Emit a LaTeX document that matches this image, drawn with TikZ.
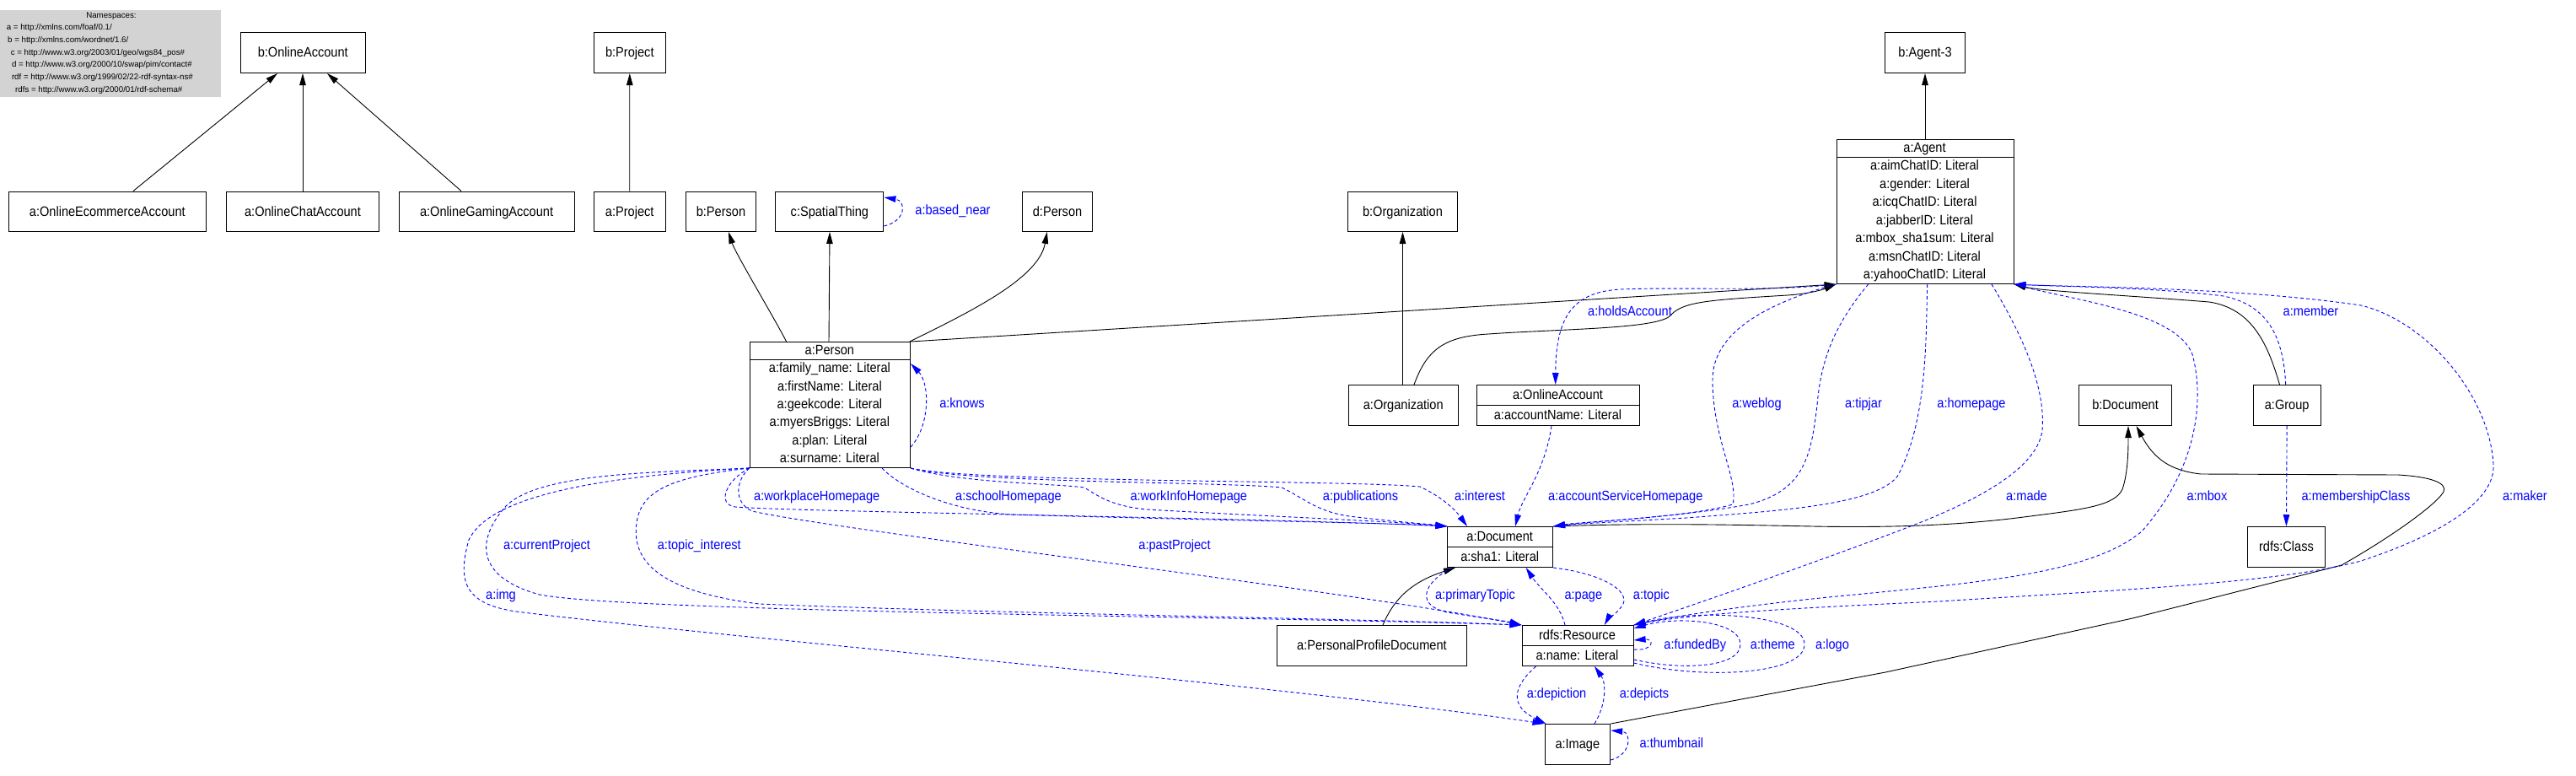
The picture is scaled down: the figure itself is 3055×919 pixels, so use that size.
\documentclass[tikz,border=0pt]{standalone}
\usepackage{fontspec}
\setmainfont{Liberation Sans}
\newfontfamily\labfam[FakeStretch=0.9]{Liberation Sans}
\usetikzlibrary{arrows.meta,calc}
\newcommand\labfont{\labfam\fontsize{16.2pt}{19pt}\selectfont}
\newcommand\nsfont{\fontsize{9.7pt}{11pt}\selectfont}
\definecolor{nsgray}{RGB}{211,211,211}
\begin{document}
\begin{tikzpicture}[x=1pt,y=-1pt,
 box/.style={draw,line width=1pt,inner sep=0pt,anchor=north west,text height=12.5pt,text depth=2pt,font=\labfont},
 cls/.style={draw,line width=1pt,inner sep=0pt,anchor=north west},
 cell/.style={inner sep=0pt,text height=12.5pt,text depth=2pt,font=\labfont},
 rl/.style={cell,text=blue},
 nsl/.style={inner sep=0pt,anchor=west,font=\nsfont},
 isa/.style={line width=0.9pt,-{Triangle[length=14pt,width=7.5pt]}},
 rel/.style={blue,line width=0.9pt,dash pattern=on 4pt off 3pt,-{Triangle[length=14pt,width=7.5pt]}},
 sep/.style={line width=1pt}]
\fill[white] (0,0) rectangle (3055,919);
\useasboundingbox (0,0) rectangle (3055,919);

% namespaces
\node[fill=nsgray,inner sep=0pt,anchor=north west,minimum width=262pt,minimum height=103pt] (ns) at (0,12) {};
\node[inner sep=0pt,font=\nsfont] (nsT) at (132,19) {Namespaces:};
\node[nsl] (ns1) at (7.7,33) {a = http://xmlns.com/foaf/0.1/};
\node[nsl] (ns2) at (9,48) {b = http://xmlns.com/wordnet/1.6/};
\node[nsl] (ns3) at (12.6,63) {c = http://www.w3.org/2003/01/geo/wgs84\_pos\#};
\node[nsl] (ns4) at (13.8,77) {d = http://www.w3.org/2000/10/swap/pim/contact\#};
\node[nsl] (ns5) at (13.8,92) {rdf = http://www.w3.org/1999/02/22-rdf-syntax-ns\#};
\node[nsl] (ns6) at (18,107) {rdfs = http://www.w3.org/2000/01/rdf-schema\#};

% simple boxes
\node[box,minimum width=147.5pt,minimum height=48pt] (bOA) at (285,38) {b:OnlineAccount};
\node[box,minimum width=234.4pt,minimum height=47.5pt] (ecom) at (9.6,226.5) {a:OnlineEcommerceAccount};
\node[box,minimum width=181pt,minimum height=47.5pt] (chat) at (268,226.5) {a:OnlineChatAccount};
\node[box,minimum width=207.8pt,minimum height=47.5pt] (gaming) at (472.7,226.5) {a:OnlineGamingAccount};
\node[box,minimum width=85.4pt,minimum height=48pt] (bProject) at (703.6,38) {b:Project};
\node[box,minimum width=85.2pt,minimum height=47.5pt] (aProject) at (703.6,226.5) {a:Project};
\node[box,minimum width=83.9pt,minimum height=47.5pt] (bPerson) at (812.5,226.5) {b:Person};
\node[box,minimum width=128pt,minimum height=47.5pt] (spatial) at (919.4,226.5) {c:SpatialThing};
\node[box,minimum width=83.7pt,minimum height=47.5pt] (dPerson) at (1211.7,226.5) {d:Person};
\node[box,minimum width=130.9pt,minimum height=47.5pt] (bOrg) at (1597.5,226.5) {b:Organization};
\node[box,minimum width=95pt,minimum height=48pt] (bAgent3) at (2235,38) {b:Agent-3};
\node[box,minimum width=129.5pt,minimum height=48pt] (aOrg) at (1599,456) {a:Organization};
\node[box,minimum width=110.7pt,minimum height=48pt] (bDoc) at (2464.7,456) {b:Document};
\node[box,minimum width=79.9pt,minimum height=48pt] (group) at (2671.7,456) {a:Group};
\node[box,minimum width=92.9pt,minimum height=48pt] (rClass) at (2664.5,624) {rdfs:Class};
\node[box,minimum width=225.7pt,minimum height=48pt] (ppd) at (1513.6,741) {a:PersonalProfileDocument};
\node[box,minimum width=77.7pt,minimum height=48pt] (img) at (1831.5,858) {a:Image};

% class boxes with attributes
\node[cls,minimum width=210pt,minimum height=171pt] (agent) at (2177.5,165) {};
\draw[sep] ($(agent.north west)+(0,21)$) -- ($(agent.north east)+(0,21)$);
\node[cell] (agT) at (2282.5,175.5) {a:Agent};
\node[cell] (ag1) at (2282.5,196.7) {a:aimChatID: Literal};
\node[cell] (ag2) at (2282.5,218.1) {a:gender: Literal};
\node[cell] (ag3) at (2282.5,239.6) {a:icqChatID: Literal};
\node[cell] (ag4) at (2282.5,261) {a:jabberID: Literal};
\node[cell] (ag5) at (2282.5,282.4) {a:mbox\_sha1sum: Literal};
\node[cell] (ag6) at (2282.5,303.9) {a:msnChatID: Literal};
\node[cell] (ag7) at (2282.5,325.3) {a:yahooChatID: Literal};

\node[cls,minimum width=190.2pt,minimum height=149pt] (person) at (888.8,405) {};
\draw[sep] ($(person.north west)+(0,21)$) -- ($(person.north east)+(0,21)$);
\node[cell] (peT) at (983.9,415.5) {a:Person};
\node[cell] (pe1) at (983.9,436.7) {a:family\_name: Literal};
\node[cell] (pe2) at (983.9,458) {a:firstName: Literal};
\node[cell] (pe3) at (983.9,479.3) {a:geekcode: Literal};
\node[cell] (pe4) at (983.9,500.7) {a:myersBriggs: Literal};
\node[cell] (pe5) at (983.9,522) {a:plan: Literal};
\node[cell] (pe6) at (983.9,543.3) {a:surname: Literal};

\node[cls,minimum width=193pt,minimum height=48pt] (aOA) at (1751,456) {};
\draw[sep] ($(aOA.north west)+(0,24)$) -- ($(aOA.north east)+(0,24)$);
\node[cell] (oaT) at (1847.5,468) {a:OnlineAccount};
\node[cell] (oa1) at (1847.5,492) {a:accountName: Literal};

\node[cls,minimum width=124.6pt,minimum height=48pt] (doc) at (1716.4,624) {};
\draw[sep] ($(doc.north west)+(0,24)$) -- ($(doc.north east)+(0,24)$);
\node[cell] (docT) at (1778.7,636) {a:Document};
\node[cell] (doc1) at (1778.7,660) {a:sha1: Literal};

\node[cls,minimum width=132.1pt,minimum height=48pt] (res) at (1804.5,741) {};
\draw[sep] ($(res.north west)+(0,24)$) -- ($(res.north east)+(0,24)$);
\node[cell] (resT) at (1870.5,753) {rdfs:Resource};
\node[cell] (res1) at (1870.5,777) {a:name: Literal};

% subclass connectors
\draw[isa] ($(ecom.north west)+(148.4,0)$) -- ($(bOA.south west)+(44,0)$);
\draw[isa] ($(chat.north west)+(91,0)$) -- ($(bOA.south west)+(74,0)$);
\draw[isa] ($(gaming.north west)+(74.3,0)$) -- ($(bOA.south west)+(103,0)$);
\draw[isa] (aProject.north) -- (bProject.south);
\draw[isa] (agent.north) -- (bAgent3.south);
\draw[isa] ($(person.north west)+(43.8,0)$) .. controls (920,380) and (872,300) .. ($(bPerson.south west)+(51.5,0)$);
\draw[isa] ($(person.north west)+(94.2,0)$) -- ($(spatial.south west)+(64.6,0)$);
\draw[isa] ($(person.north east)+(-1.3,0)$) .. controls (1150,370) and (1232,330) .. ($(dPerson.south west)+(30.1,0)$);
\draw[isa] (person.north east) -- (agent.south west);
\draw[isa] ($(aOrg.north west)+(64.5,0)$) -- ($(bOrg.south west)+(66,0)$);
\draw[isa] ($(aOrg.north west)+(78,0)$) .. controls (1692,415) and (1712,399) .. (1765,396) .. controls (1850,390) and (1962,390) .. (1980,375) .. controls (1995,358) and (2020,356) .. (2120,350) .. controls (2150,348) and (2165,342) .. (agent.south west);
\draw[isa] ($(group.north west)+(31.8,0)$) .. controls (2690,410) and (2672,366) .. (2620,358) .. controls (2520,350) and (2420,345) .. (agent.south east);
\draw[isa] ($(ppd.north west)+(126.4,0)$) .. controls (1655,705) and (1680,688) .. ($(doc.south west)+(9.6,0)$);
\draw[isa] (doc.north east) .. controls (1950,620) and (2050,622) .. (2150,624) .. controls (2250,626) and (2330,622) .. (2400,613) .. controls (2470,604) and (2508,600) .. (2517,580) .. controls (2524,560) and (2524,530) .. ($(bDoc.south west)+(59.3,0)$);
\draw[isa] (img.north east) -- (2236,797) -- (2529,733) -- (2777,670) .. controls (2830,640) and (2888,600) .. (2898,583) .. controls (2903,572) and (2880,565) .. (2844,563) -- (2610,562) .. controls (2575,558) and (2555,545) .. ($(bDoc.south west)+(68.8,0)$);

% property connectors
\draw[rel] ($(spatial.south east)+(0,-7)$) .. controls (1075,262) and (1075,238) .. ($(spatial.south east)+(0,-41)$);
\draw[rel] ($(person.south east)+(0,-25)$) .. controls (1103,505) and (1103,455) .. ($(person.south east)+(0,-124)$);
\draw[rel] (agent.south west) .. controls (2100,346) and (2000,340) .. (1922,343) .. controls (1868,346) and (1845,372) .. ($(aOA.north west)+(93.7,0)$);
\draw[rel] ($(aOA.south west)+(89,0)$) .. controls (1832,560) and (1805,590) .. ($(doc.north west)+(80.6,0)$);
\draw[rel] (agent.south west) .. controls (2100,358) and (2031,392) .. (2031,450) .. controls (2031,520) and (2062,568) .. (2055,598) .. controls (2000,614) and (1880,618) .. (doc.north east);
\draw[rel] ($(agent.south west)+(38.2,0)$) .. controls (2180,380) and (2160,420) .. (2155,480) .. controls (2148,540) and (2140,582) .. (2074,598) .. controls (2000,612) and (1880,619) .. (doc.north east);
\draw[rel] ($(agent.south west)+(108.2,0)$) .. controls (2284,400) and (2286,500) .. (2250,565) .. controls (2222,600) and (2100,606) .. (2000,614) .. controls (1930,618) and (1870,621) .. (doc.north east);
\draw[rel] ($(agent.south west)+(184.5,0)$) .. controls (2400,400) and (2426,460) .. (2422,510) .. controls (2416,560) and (2330,600) .. (2250,630) .. controls (2150,668) and (2000,720) .. (res.north east);
\draw[rel] (agent.south east) .. controls (2450,355) and (2580,368) .. (2600,420) .. controls (2616,480) and (2602,560) .. (2540,630) .. controls (2480,680) and (2350,690) .. (2200,705) .. controls (2080,716) and (1990,730) .. (res.north east);
\draw[rel] (res.north east) .. controls (2000,727) and (2150,720) .. (2300,713) .. controls (2500,700) and (2700,692) .. (2800,665) .. controls (2900,632) and (2960,592) .. (2957,550) .. controls (2952,470) and (2880,382) .. (2800,362) .. controls (2650,340) and (2450,340) .. (agent.south east);
\draw[rel] ($(group.north west)+(39,0)$) .. controls (2708,400) and (2690,362) .. (2637,351) .. controls (2560,341) and (2450,340) .. (agent.south east);
\draw[rel] (group.south) -- (rClass.north);

\draw[rel] (person.south east) .. controls (1150,572) and (1600,569) .. (1684,577) .. controls (1712,590) and (1727,606) .. ($(doc.north west)+(23.6,0)$);
\draw[rel] (person.south east) .. controls (1150,573) and (1450,571) .. (1520,578) .. controls (1546,590) and (1560,606) .. (1600,612) .. controls (1650,618) and (1690,621) .. (doc.north west);
\draw[rel] (person.south east) .. controls (1140,573) and (1250,573) .. (1286,578) .. controls (1305,590) and (1320,600) .. (1360,604) .. controls (1500,612) and (1650,618) .. (doc.north west);
\draw[rel] ($(person.south west)+(157.2,0)$) .. controls (1070,580) and (1130,606) .. (1200,610) .. controls (1400,616) and (1650,620) .. (doc.north west);
\draw[rel] (person.south west) .. controls (860,570) and (850,598) .. (872,601) .. controls (950,607) and (1500,614) .. (doc.north west);
\draw[rel] (person.south west) .. controls (872,570) and (870,596) .. (892,606) .. controls (1000,630) and (1600,700) .. (res.north west);
\draw[rel] (person.south west) .. controls (780,560) and (640,560) .. (600,600) .. controls (560,645) and (570,686) .. (640,705) .. controls (750,726) and (1500,731) .. (res.north west);
\draw[rel] (person.south west) .. controls (800,565) and (760,580) .. (755,620) .. controls (748,670) and (790,702) .. (900,716) .. controls (1200,728) and (1600,733) .. (res.north west);
\draw[rel] (person.south west) .. controls (700,565) and (580,590) .. (556,640) .. controls (542,690) and (550,718) .. (620,726) .. controls (900,760) and (1500,810) .. (img.north west);
\draw[rel] ($(doc.south west)+(6,0)$) .. controls (1688,690) and (1675,720) .. (1723,727) .. controls (1760,733) and (1790,737) .. (res.north west);
\draw[rel] ($(res.north west)+(51.5,0)$) .. controls (1850,715) and (1826,698) .. ($(doc.south west)+(93.3,0)$);
\draw[rel] (doc.south east) .. controls (1900,680) and (1932,700) .. (1925,716) .. controls (1918,728) and (1906,735) .. ($(res.north west)+(98.3,0)$);
\draw[rel] ($(res.north east)+(0,29)$) .. controls (1962,772) and (1962,757) .. ($(res.north east)+(0,18)$);
\draw[rel] ($(res.north east)+(0,41)$) .. controls (2000,796) and (2064,790) .. (2064,764) .. controls (2064,736) and (1990,730) .. ($(res.north east)+(0,4)$);
\draw[rel] ($(res.north east)+(0,45)$) .. controls (2020,806) and (2140,800) .. (2140,764) .. controls (2140,727) and (2010,722) .. (res.north east);
\draw[rel] ($(res.south west)+(17.1,0)$) .. controls (1796,812) and (1788,836) .. ($(img.north west)+(2,0)$);
\draw[rel] ($(img.north west)+(59.5,0)$) .. controls (1905,835) and (1905,810) .. ($(res.south west)+(86.5,0)$);
\draw[rel] ($(img.south east)+(0,-6)$) .. controls (1935,895) and (1935,868) .. ($(img.north east)+(0,8)$);

% property labels
\node[rl] (l1) at (1130,249) {a:based\_near};
\node[rl] (l2) at (1141,478) {a:knows};
\node[rl] (l3) at (1933,369) {a:holdsAccount};
\node[rl] (l4) at (2740.5,369) {a:member};
\node[rl] (l5) at (2083.5,478) {a:weblog};
\node[rl] (l6) at (2210,478) {a:tipjar};
\node[rl] (l7) at (2338,478) {a:homepage};
\node[rl] (l8) at (968.7,588) {a:workplaceHomepage};
\node[rl] (l9) at (1196,588) {a:schoolHomepage};
\node[rl] (l10) at (1409.8,588) {a:workInfoHomepage};
\node[rl] (l11) at (1613.5,588) {a:publications};
\node[rl] (l12) at (1755,588) {a:interest};
\node[rl] (l13) at (1927.8,588) {a:accountServiceHomepage};
\node[rl] (l14) at (2403.5,588) {a:made};
\node[rl] (l15) at (2617.4,588) {a:mbox};
\node[rl] (l16) at (2794,588) {a:membershipClass};
\node[rl] (l17) at (2994.4,588) {a:maker};
\node[rl] (l18) at (648.5,646.7) {a:currentProject};
\node[rl] (l19) at (829.3,646.7) {a:topic\_interest};
\node[rl] (l20) at (1393,646) {a:pastProject};
\node[rl] (l21) at (594,705) {a:img};
\node[rl] (l22) at (1749.5,705) {a:primaryTopic};
\node[rl] (l23) at (1877.8,705) {a:page};
\node[rl] (l24) at (1958.4,705) {a:topic};
\node[rl] (l25) at (2010.3,764) {a:fundedBy};
\node[rl] (l26) at (2102.3,764) {a:theme};
\node[rl] (l27) at (2173,764) {a:logo};
\node[rl] (l28) at (1846,822) {a:depiction};
\node[rl] (l29) at (1950,822) {a:depicts};
\node[rl] (l30) at (1982.3,881.7) {a:thumbnail};
\end{tikzpicture}
\end{document}
